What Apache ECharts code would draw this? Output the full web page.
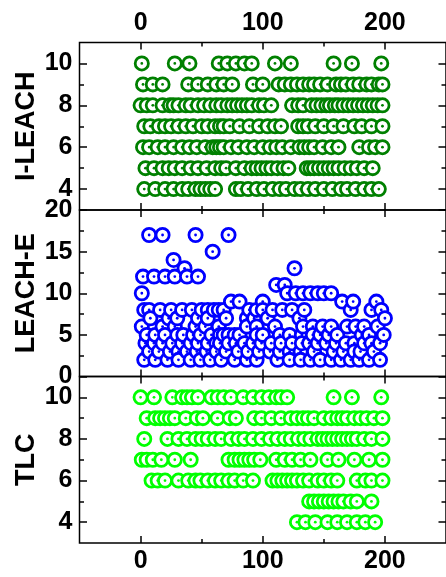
<!DOCTYPE html>
<html>
<head>
<meta charset="utf-8">
<script src="https://cdn.jsdelivr.net/npm/echarts@6/dist/echarts.min.js"></script>
<style>
html,body{margin:0;padding:0;background:#fff;}
#c{width:446px;height:577px;}
</style>
</head>
<body>
<div id="c"></div>
<script>
// ---- data: [level, [rounds at that level]] ----
const iLeachRows = [
  [10, [1, 28, 40, 64, 71, 78, 85, 91, 110, 123, 158, 173, 197]],
  [9, [2, 10, 18, 39, 47, 55, 62, 68, 75, 92, 100, 113, 118, 123, 128, 133, 138, 142, 147, 153, 160, 164, 168, 174, 179, 185, 189, 195, 198]],
  [8, [0, 5, 10, 18, 24, 27, 31, 37, 41, 47, 52, 57, 62, 66, 71, 75, 79, 83, 87, 91, 97, 101, 107, 124, 129, 133, 140, 144, 148, 152, 155, 159, 162, 166, 170, 174, 178, 182, 186, 190, 194, 198]],
  [7, [3, 8, 15, 20, 25, 31, 37, 43, 50, 55, 61, 65, 68, 73, 81, 89, 97, 104, 110, 115, 129, 133, 137, 143, 150, 158, 166, 175, 181, 189, 198]],
  [6, [2, 7, 14, 20, 27, 34, 40, 46, 53, 59, 62, 65, 68, 74, 80, 87, 93, 100, 106, 111, 116, 123, 130, 134, 138, 142, 149, 156, 162, 179, 187, 192, 198]],
  [5, [4, 11, 18, 23, 28, 34, 41, 47, 54, 61, 66, 70, 78, 85, 91, 95, 99, 103, 107, 112, 117, 121, 136, 139, 142, 146, 150, 154, 158, 162, 167, 172, 177, 183, 190]],
  [4, [3, 12, 20, 27, 34, 39, 45, 49, 53, 57, 61, 78, 82, 88, 95, 101, 108, 114, 119, 126, 131, 137, 143, 150, 157, 164, 169, 176, 183, 189, 195]]
];
const leachERows = [
  [17, [7, 18, 45, 72]],
  [15, [59]],
  [14, [27]],
  [13, [36, 126]],
  [12, [2, 11, 20, 28, 38, 47]],
  [11, [111, 118]],
  [10, [1, 120, 127, 133, 139, 145, 150, 156]],
  [9, [74, 81, 100, 165, 174, 193]],
  [8, [3, 7, 16, 25, 34, 42, 50, 55, 60, 64, 68, 89, 95, 100, 108, 116, 124, 134, 172, 189, 197]],
  [7, [8, 23, 30, 47, 55, 70, 87, 93, 104, 130, 200]],
  [6, [1, 18, 28, 45, 53, 64, 87, 95, 110, 133, 141, 149, 156, 169, 176, 183, 194]],
  [5, [5, 12, 20, 30, 35, 43, 49, 58, 65, 68, 72, 77, 81, 95, 100, 114, 122, 132, 141, 147, 154, 161, 181, 187, 199]],
  [4, [4, 11, 18, 26, 34, 41, 47, 55, 62, 65, 72, 78, 85, 92, 99, 107, 115, 124, 132, 138, 145, 152, 160, 168, 175, 183, 189, 196]],
  [3, [7, 15, 24, 31, 38, 46, 54, 62, 70, 80, 88, 97, 106, 114, 122, 131, 142, 158, 166, 175, 180, 191]],
  [2, [3, 12, 22, 31, 41, 49, 57, 66, 77, 87, 95, 112, 122, 131, 139, 147, 156, 164, 172, 179, 187, 196]]
];
const tlcRows = [
  [10, [0, 11, 26, 34, 38, 42, 47, 58, 63, 68, 74, 84, 92, 99, 105, 111, 115, 120, 158, 173, 197]],
  [9, [5, 12, 16, 20, 24, 28, 37, 46, 51, 63, 73, 78, 93, 99, 107, 115, 123, 128, 133, 137, 142, 150, 156, 161, 165, 169, 175, 180, 185, 191, 198]],
  [8, [3, 22, 31, 38, 45, 50, 55, 61, 66, 74, 80, 85, 92, 99, 106, 112, 118, 123, 129, 134, 139, 145, 149, 153, 157, 161, 165, 169, 173, 177, 183, 189, 198]],
  [7, [1, 5, 10, 17, 28, 41, 72, 77, 81, 85, 89, 93, 98, 111, 118, 124, 131, 139, 153, 162, 175, 187, 198]],
  [6, [9, 14, 20, 31, 39, 45, 49, 55, 61, 66, 72, 77, 84, 92, 108, 112, 116, 120, 124, 128, 133, 138, 145, 150, 156, 161, 177, 184, 189, 198]],
  [5, [138, 142, 146, 150, 154, 158, 162, 166, 172, 177, 189]],
  [4, [128, 135, 143, 153, 161, 169, 177, 184, 192]]
];
const panelNames = ['I-LEACH', 'LEACH-E', 'TLC'];
const xMajorTicks = [0, 100, 200];
const xMinorTicks = [50, 150];
const yMajorTicksA = [4, 6, 8, 10];
const yMinorTicksA = [5, 7, 9];
const yMajorTicksB = [0, 5, 10, 15, 20];
const yMinorTicksB = [2.5, 7.5, 12.5, 17.5];

// ---- layout / style ----
const FONT = '"Liberation Sans", Arial, sans-serif';
const colors = ['#008000', '#0000ff', '#00ff00'];
const layout = [
  {top: 42.5, height: 167.5, min: 3, max: 11, major: yMajorTicksA, minor: yMinorTicksA, interval: 1},
  {top: 210, height: 166.5, min: 0, max: 20, major: yMajorTicksB, minor: yMinorTicksB, interval: 5},
  {top: 376.5, height: 166.5, min: 3, max: 11, major: yMajorTicksA, minor: yMinorTicksA, interval: 1}
];
const rowsList = [iLeachRows, leachERows, tlcRows];

const labelStyle = {fontSize: 25, fontWeight: 'bold', color: '#000', fontFamily: FONT};

function xAx(gi, pos, ticks, len, labels, margin) {
  return {
    type: 'value', gridIndex: gi, position: pos, min: -50, max: 250, interval: 50,
    axisLine: {show: false, onZero: false},
    splitLine: {show: false},
    axisTick: {show: true, inside: true, length: len, customValues: ticks, lineStyle: {color: '#000', width: 1.5}},
    axisLabel: Object.assign({show: !!labels, customValues: labels || ticks, margin: margin || 7,
      showMinLabel: true, showMaxLabel: true}, labelStyle)
  };
}
function yAx(gi, pos, L, ticks, len, labels, name) {
  const a = {
    type: 'value', gridIndex: gi, position: pos, min: L.min, max: L.max, interval: L.interval,
    axisLine: {show: false, onZero: false},
    splitLine: {show: false},
    axisTick: {show: true, inside: true, length: len, customValues: ticks, lineStyle: {color: '#000', width: 1.5}},
    axisLabel: Object.assign({show: !!labels, customValues: labels || ticks, margin: 7,
      showMinLabel: true, showMaxLabel: true}, labelStyle)
  };
  if (name) {
    a.name = name;
    a.nameLocation = 'middle';
    a.nameGap = 39;
    a.nameMoveOverlap = false;
    a.nameTextStyle = {fontSize: 27, fontWeight: 'bold', color: '#000', fontFamily: FONT};
  }
  return a;
}

const grids = [], xAxes = [], yAxes = [], series = [];
layout.forEach((L, gi) => {
  grids.push({left: 79.5, right: -4.9, top: L.top, height: L.height, show: true,
    borderColor: '#000', borderWidth: 1.5, backgroundColor: 'transparent'});
  xAxes.push(xAx(gi, 'bottom', xMajorTicks, 7, gi === 2 ? xMajorTicks : null, 6));
  xAxes.push(xAx(gi, 'bottom', xMinorTicks, 4, null));
  xAxes.push(xAx(gi, 'top', xMajorTicks, 7, gi === 0 ? xMajorTicks : null, 7));
  xAxes.push(xAx(gi, 'top', xMinorTicks, 4, null));
  yAxes.push(yAx(gi, 'left', L, L.major, 7.5, L.major, panelNames[gi]));
  yAxes.push(yAx(gi, 'left', L, L.minor, 4.5, null));
  yAxes.push(yAx(gi, 'right', L, L.major, 7.5, null));
  yAxes.push(yAx(gi, 'right', L, L.minor, 4.5, null));

  const pts = [];
  rowsList[gi].forEach(([lvl, xs]) => xs.forEach(x => pts.push([x, lvl])));
  pts.sort((a, b) => a[0] - b[0]);
  const col = colors[gi];
  series.push({
    type: 'custom', name: panelNames[gi], xAxisIndex: gi * 4, yAxisIndex: gi * 4,
    data: pts, encode: {x: 0, y: 1}, clip: true, animation: false,
    renderItem: function (params, api) {
      const p = api.coord([api.value(0), api.value(1)]);
      return {
        type: 'group',
        children: [
          {type: 'circle', shape: {cx: p[0], cy: p[1], r: 6.6}, style: {fill: '#fff', stroke: col, lineWidth: 2.8}},
          {type: 'circle', shape: {cx: p[0], cy: p[1], r: 1.4}, style: {fill: col}}
        ]
      };
    }
  });
});

const chart = echarts.init(document.getElementById('c'), null, {renderer: 'canvas'});
chart.setOption({
  animation: false,
  backgroundColor: '#fff',
  grid: grids,
  xAxis: xAxes,
  yAxis: yAxes,
  series: series
});
</script>
</body>
</html>
